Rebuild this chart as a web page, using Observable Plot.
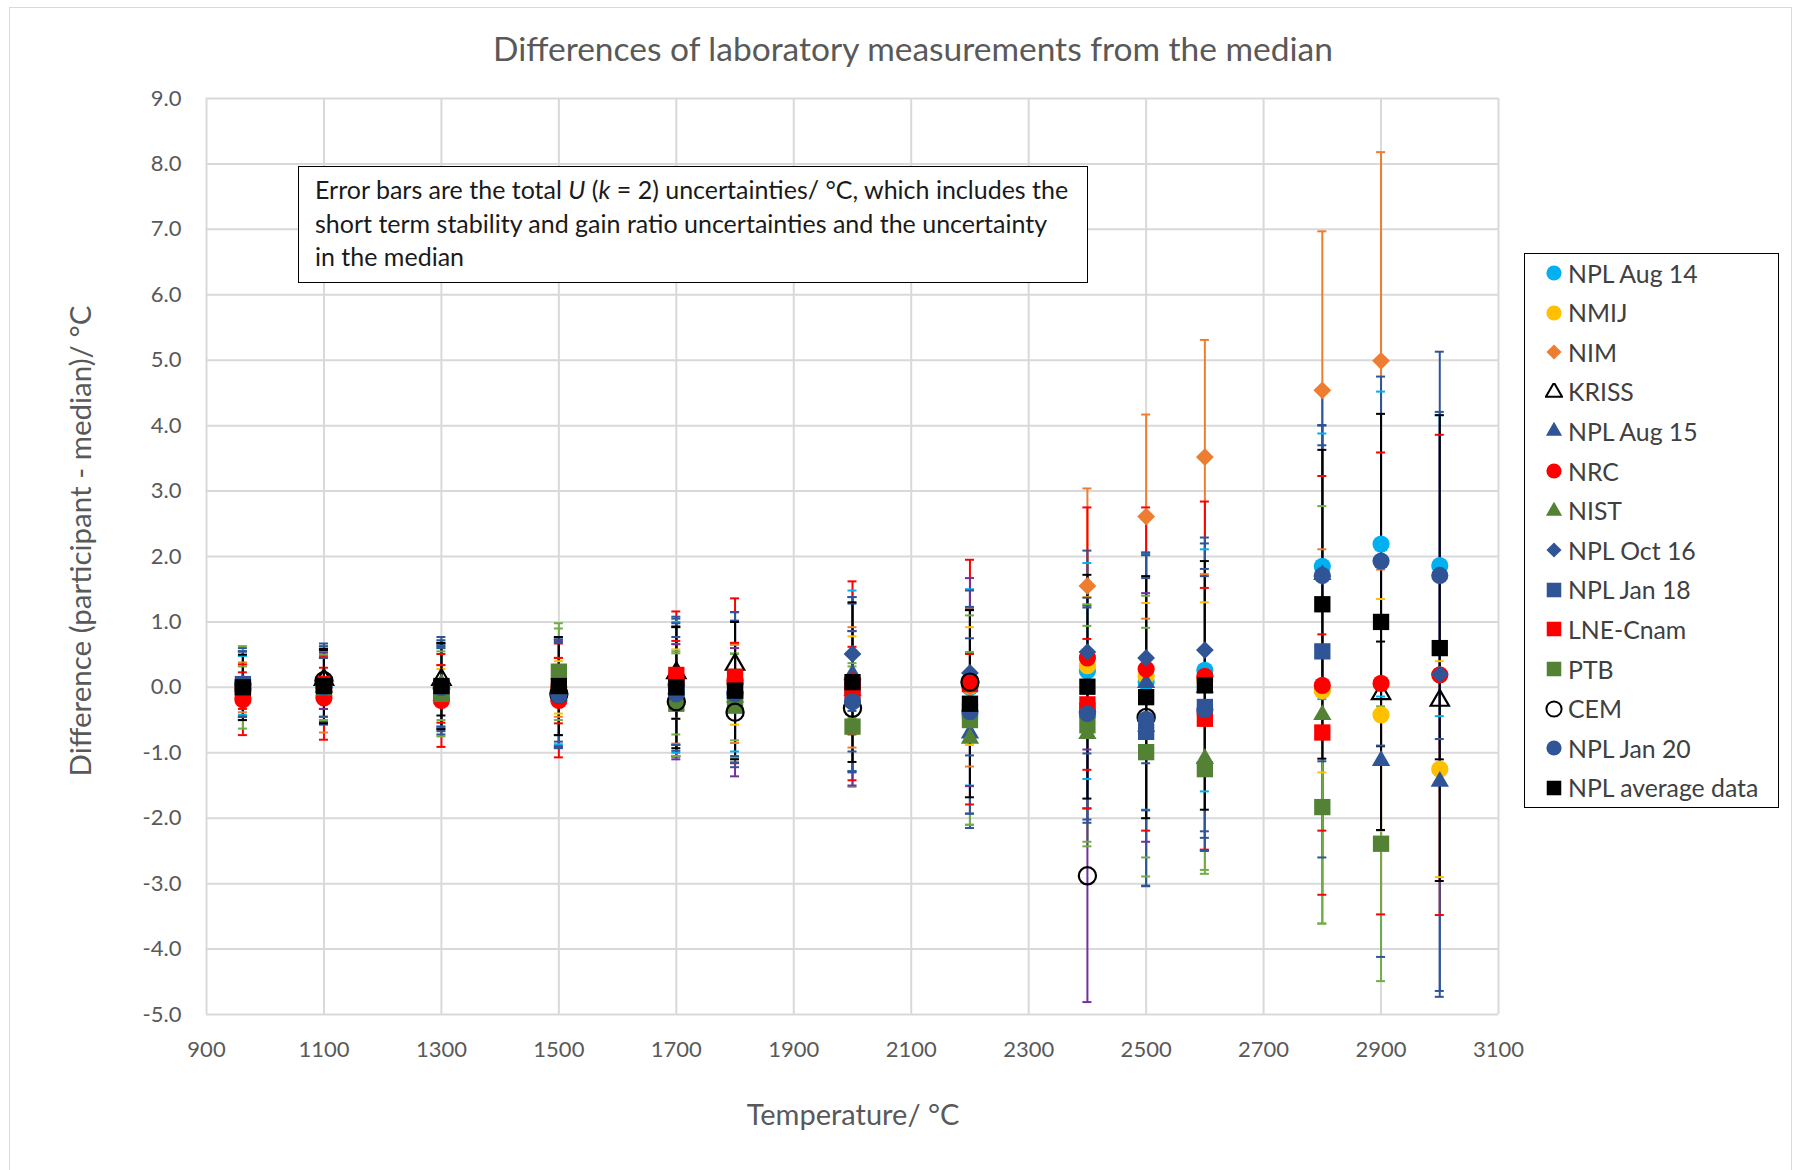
<!DOCTYPE html>
<html>
<head>
<meta charset="utf-8">
<script src="https://cdn.jsdelivr.net/npm/d3@7"></script>
<script src="https://cdn.jsdelivr.net/npm/@observablehq/plot@0.6"></script>
<style>
  body { margin: 0; background: #fff; font-family: Lato, "Open Sans", sans-serif; }
  #wrap { position: relative; width: 1795px; height: 1170px; overflow: hidden; background: #fff; }
  #frame { position: absolute; left: 9px; top: 7px; width: 1783px; height: 1180px; border: 1.5px solid #d9d9d9; box-sizing: border-box; }
  #chart { position: absolute; left: 0; top: 0; }
  #title { position: absolute; left: 913px; top: 28px; transform: translateX(-50%); white-space: nowrap; font-size: 33.5px; color: #595959; line-height: 40px; }
  #xtitle { position: absolute; left: 853px; top: 1097px; transform: translateX(-50%); white-space: nowrap; font-size: 29px; color: #595959; line-height: 34px; }
  #ytitle { position: absolute; left: 80px; top: 541px; transform: translate(-50%, -50%) rotate(-90deg); white-space: nowrap; font-size: 29.5px; color: #595959; line-height: 34px; }
  #note { position: absolute; left: 298px; top: 166px; width: 790px; height: 117px; border: 1.5px solid #000; box-sizing: border-box; background: #fff; padding: 6px 0 0 16px; font-size: 25px; line-height: 33.5px; color: #1a1a1a; white-space: nowrap; }
  #legend { position: absolute; left: 1524px; top: 253px; width: 255px; height: 555px; border: 1.5px solid #000; box-sizing: border-box; background: #fff; }
  .lrow { position: absolute; left: 0; height: 30px; display: flex; align-items: center; font-size: 24.8px; color: #404040; white-space: nowrap; }
  .lrow svg { margin-left: 20px; margin-right: 5px; }
</style>
</head>
<body>
<div id="wrap">
  <div id="frame"></div>
  <div id="chart"></div>
  <div id="title">Differences of laboratory measurements from the median</div>
  <div id="xtitle">Temperature/ °C</div>
  <div id="ytitle">Difference (participant - median)/ °C</div>
  <div id="note">Error bars are the total <i>U</i> (<i>k</i> = 2) uncertainties/ °C, which includes the<br>short term stability and gain ratio uncertainties and the uncertainty<br>in the median</div>
  <div id="legend"></div>
</div>
<script>
// ---- Data ----
const temps = [962, 1100, 1300, 1500, 1700, 1800, 2000, 2200, 2400, 2500, 2600, 2800, 2900, 3000];
const xTicks = [900, 1100, 1300, 1500, 1700, 1900, 2100, 2300, 2500, 2700, 2900, 3100];
const yTicks = [-5, -4, -3, -2, -1, 0, 1, 2, 3, 4, 5, 6, 7, 8, 9];

const seriesNames = ["NPL Aug 14", "NMIJ", "NIM", "KRISS", "NPL Aug 15", "NRC", "NIST", "NPL Oct 16", "NPL Jan 18", "LNE-Cnam", "PTB", "CEM", "NPL Jan 20", "NPL average data"];

const nplAug14V = [0.03, 0.02, 0.02, -0.05, 0.0, -0.15, 0.1, 0.0, 0.25, 0.08, 0.26, 1.85, 2.19, 1.86];
const nplAug14U = [0.45, 0.52, 0.62, 0.82, 1.0, 0.83, 1.38, 1.5, 1.65, 1.95, 1.85, 2.03, 2.33, 2.3];
const nmijV = [null, null, 0.0, 0.0, 0.05, 0.05, 0.1, 0.02, 0.33, 0.17, 0.1, -0.05, -0.42, -1.25];
const nmijU = [null, null, 0.28, 0.4, 0.53, 0.62, 0.68, 0.9, 1.05, 1.12, 1.2, 1.25, 1.77, 1.65];
const nimV = [0.0, -0.05, 0.02, 0.0, -0.1, -0.1, 0.0, 0.0, 1.55, 2.61, 3.52, 4.54, 4.99, null];
const nimU = [0.38, 0.64, 0.32, 0.45, 0.76, 0.75, 0.92, 1.21, 1.49, 1.56, 1.79, 2.43, 3.19, null];
const krissV = [null, 0.12, 0.12, null, 0.22, 0.35, null, null, null, null, null, null, -0.1, -0.2];
const krissU = [null, 0.45, 0.55, null, 0.7, 0.65, null, null, null, null, null, null, 0.8, 0.9];
const nplAug15V = [0.05, 0.0, 0.05, 0.0, 0.1, 0.0, 0.2, -0.7, -0.3, 0.07, 0.0, 1.72, -1.12, -1.44];
const nplAug15U = [0.5, 0.45, 0.72, 0.73, 0.98, 1.15, 1.18, 1.45, 1.55, 1.95, 2.2, 2.85, 3.0, 3.2];
const nrcV = [-0.19, -0.16, -0.2, -0.2, 0.05, 0.1, 0.1, 0.08, 0.45, 0.28, 0.17, 0.03, 0.06, 0.19];
const nrcU = [0.54, 0.64, 0.71, 0.87, 1.11, 1.26, 1.52, 1.87, 2.3, 2.47, 2.67, 3.2, 3.53, 3.67];
const nistV = [0.02, 0.0, 0.05, 0.0, -0.1, -0.15, -0.05, -0.78, -0.71, -0.6, -1.09, -0.42, null, null];
const nistU = [0.3, 0.45, 0.55, 0.9, 0.62, 0.66, 0.42, 1.32, 1.65, 2.0, 1.7, 3.19, null, null];
const nplOct16V = [0.05, 0.05, 0.0, -0.05, 0.05, 0.05, 0.51, 0.22, 0.54, 0.45, 0.57, 1.7, null, 0.2];
const nplOct16U = [0.5, 0.58, 0.6, 0.78, 0.93, 1.1, 0.87, 1.26, 1.55, 1.61, 1.72, 2.3, null, 4.93];
const nplJan18V = [0.05, 0.05, 0.0, -0.1, 0.0, 0.0, 0.0, -0.35, -0.35, -0.68, -0.3, 0.55, null, null];
const nplJan18U = [0.55, 0.62, 0.63, 0.83, 1.05, 1.15, 1.28, 1.58, 1.72, 2.35, 2.0, 3.15, null, null];
const lneV = [-0.05, 0.05, -0.1, -0.05, 0.19, 0.16, -0.05, 0.05, -0.26, null, -0.48, -0.69, null, null];
const lneU = [0.28, 0.25, 0.44, 0.5, 0.52, 0.52, 0.67, 0.46, 1.0, null, 2.0, 1.5, null, null];
const ptbV = [0.0, 0.0, -0.1, 0.24, -0.25, -0.28, -0.6, -0.5, -0.58, -0.99, -1.25, -1.83, -2.39, null];
const ptbU = [0.63, 0.5, 0.65, 0.74, 0.8, 0.8, 0.92, 1.6, 1.85, 1.9, 1.6, 1.78, 2.1, null];
const cemV = [null, 0.1, null, -0.1, -0.22, -0.38, -0.32, 0.08, -2.88, -0.46, null, null, null, null];
const cemU = [null, 0.43, null, 0.8, 0.88, 0.98, 1.18, 1.59, 1.93, 1.9, null, null, null, null];
const nplJan20V = [0.05, 0.0, 0.0, -0.12, -0.1, -0.1, -0.22, -0.37, -0.4, -0.49, -0.34, 1.71, 1.93, 1.71];
const nplJan20U = [0.5, 0.45, 0.72, 0.8, 0.87, 1.12, 1.08, 1.56, 1.62, 2.55, 2.15, 2.3, 2.82, 2.5];
const nplAvgV = [0.0, 0.02, 0.02, 0.02, 0.0, -0.05, 0.08, -0.25, 0.01, -0.15, 0.03, 1.27, 1.0, 0.6];
const nplAvgU = [0.5, 0.57, 0.66, 0.75, 0.93, 1.05, 1.22, 1.43, 1.71, 1.85, 1.9, 2.36, 3.18, 3.56];

// ---- Styles per series ----
const BLUE = "#2F5597", GREEN = "#548235", LGREEN = "#70AD47";
const styles = [
  {v: nplAug14V, u: nplAug14U, symbol: "circle",   fill: "#00B0F0", stroke: "none", bar: "#00B0F0"},
  {v: nmijV,     u: nmijU,     symbol: "circle",   fill: "#FFC000", stroke: "none", bar: "#FFC000"},
  {v: nimV,      u: nimU,      symbol: "diamond2", fill: "#ED7D31", stroke: "none", bar: "#ED7D31"},
  {v: krissV,    u: krissU,    symbol: "triangle", fill: "none",    stroke: "#000", bar: "#000000"},
  {v: nplAug15V, u: nplAug15U, symbol: "triangle", fill: BLUE,      stroke: "none", bar: BLUE},
  {v: nrcV,      u: nrcU,      symbol: "circle",   fill: "#FF0000", stroke: "none", bar: "#FF0000"},
  {v: nistV,     u: nistU,     symbol: "triangle", fill: GREEN,     stroke: "none", bar: LGREEN},
  {v: nplOct16V, u: nplOct16U, symbol: "diamond2", fill: BLUE,      stroke: "none", bar: BLUE},
  {v: nplJan18V, u: nplJan18U, symbol: "square",   fill: BLUE,      stroke: "none", bar: BLUE},
  {v: lneV,      u: lneU,      symbol: "square",   fill: "#FF0000", stroke: "none", bar: "#FF0000"},
  {v: ptbV,      u: ptbU,      symbol: "square",   fill: GREEN,     stroke: "none", bar: LGREEN},
  {v: cemV,      u: cemU,      symbol: "circle",   fill: "none",    stroke: "#000", bar: "#7030A0"},
  {v: nplJan20V, u: nplJan20U, symbol: "circle",   fill: BLUE,      stroke: "none", bar: BLUE},
  {v: nplAvgV,   u: nplAvgU,   symbol: "square",   fill: "#000000", stroke: "none", bar: "#000000"}
];
const rFor = {circle: 8.6, square: 9.2, diamond2: 8.0, triangle: 6.8};

const tables = styles.map((s, k) => temps.map((t, i) => ({T: t, v: s.v[i], u: s.u[i], name: seriesNames[k]})).filter(d => d.v != null));

const barMarks = [], capMarks = [], dotMarks = [];
styles.forEach((s, k) => {
  const rows = tables[k];
  barMarks.push(Plot.ruleX(rows, {x: "T", y1: d => d.v - d.u, y2: d => d.v + d.u, stroke: s.bar, strokeWidth: 2}));
  capMarks.push(Plot.ruleY(rows, {x1: "T", x2: "T", y: d => d.v + d.u, insetLeft: -4.5, insetRight: -4.5, stroke: s.bar, strokeWidth: 2}));
  capMarks.push(Plot.ruleY(rows, {x1: "T", x2: "T", y: d => d.v - d.u, insetLeft: -4.5, insetRight: -4.5, stroke: s.bar, strokeWidth: 2}));
  dotMarks.push(Plot.dot(rows, {
    x: "T", y: "v", symbol: () => s.symbol, r: rFor[s.symbol],
    fill: s.fill, stroke: s.stroke, strokeWidth: s.stroke === "none" ? 0 : 2.2, fillOpacity: 1
  }));
});

const chart = Plot.plot({
  width: 1795, height: 1170,
  marginLeft: 206, marginRight: 297, marginTop: 98, marginBottom: 156,
  x: {domain: [900, 3100]},
  y: {domain: [-5, 9]},
  symbol: {type: "identity"},
  style: {fontFamily: "Lato, 'Open Sans', sans-serif", color: "#595959", background: "transparent", overflow: "visible"},
  marks: [
    Plot.gridX(xTicks, {stroke: "#d9d9d9", strokeOpacity: 1, strokeWidth: 2}),
    Plot.gridY(yTicks, {stroke: "#d9d9d9", strokeOpacity: 1, strokeWidth: 2}),
    Plot.axisX(xTicks, {tickSize: 0, tickPadding: 27, fontSize: 22, tickFormat: d => String(d), label: null}),
    Plot.axisY(yTicks, {tickSize: 0, tickPadding: 25, fontSize: 22, tickFormat: d => d.toFixed(1), label: null}),
    ...barMarks,
    ...capMarks,
    ...dotMarks
  ]
});
document.getElementById("chart").appendChild(chart);

// ---- Legend ----
const legend = d3.select("#legend");
const symMap = {circle: d3.symbolCircle, square: d3.symbolSquare, diamond2: d3.symbolDiamond2, triangle: d3.symbolTriangle};
const legendR = {circle: 7.6, square: 8.2, diamond2: 6.8, triangle: 6.0};
seriesNames.forEach((name, i) => {
  const s = styles[i];
  const row = legend.append("div").attr("class", "lrow").style("top", (4 + i * 39.6) + "px");
  const svg = row.append("svg").attr("width", 18).attr("height", 18);
  const r = legendR[s.symbol];
  svg.append("path")
    .attr("transform", "translate(9,9)")
    .attr("d", d3.symbol(symMap[s.symbol], Math.PI * r * r)())
    .attr("fill", s.fill)
    .attr("stroke", s.stroke)
    .attr("stroke-width", s.stroke === "none" ? 0 : 2);
  row.append("span").text(name);
});
</script>
</body>
</html>
